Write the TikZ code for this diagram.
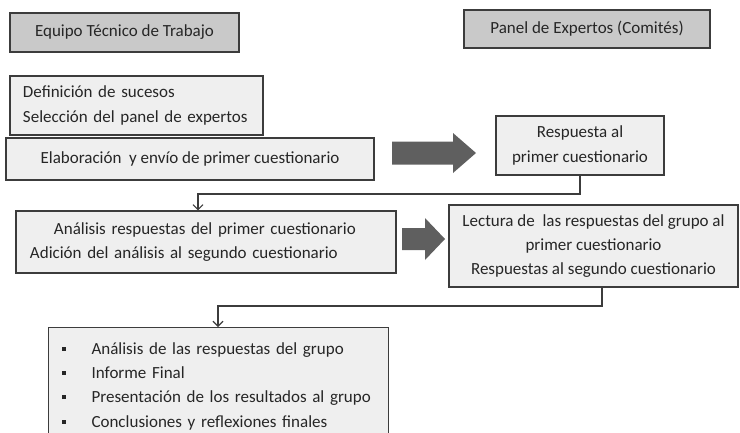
\documentclass[tikz,border=0pt]{standalone}
\usepackage{fontspec}
\setmainfont{Carlito}
\usetikzlibrary{arrows.meta}
\definecolor{boxgray}{HTML}{EFEFEF}
\definecolor{headgray}{HTML}{C9C9C9}
\definecolor{linegray}{HTML}{3C3C3C}
\definecolor{arrowgray}{HTML}{5F5F5F}
\tikzset{
  box/.style={draw=linegray, line width=1.1pt, fill=boxgray, text=black!85,
    font=\fontsize{17}{24.3}\selectfont, inner sep=0pt},
  headbox/.style={box, fill=headgray},
  conn/.style={draw=linegray, line width=1.1pt,
    -{Straight Barb[length=5pt,width=10pt,line width=1.1pt]}},
  bigarrow/.style={fill=arrowgray, draw=none}
}
\newcommand{\bul}{\rule[3.5pt]{4pt}{4pt}\hspace{26pt}}
\begin{document}
\begin{tikzpicture}[x=1pt,y=-1pt]
  \def\Ya{141.5};
  \def\Yb{164.5};
  \def\Yc{228};
  \def\Yd{250};
  \useasboundingbox (0,0) rectangle (740,432);

	% headers
	\node[headbox, minimum width=229pt, minimum height=39pt] (equipo) at (124.5,32.5) {Equipo Técnico de Trabajo};
	\node[headbox, minimum width=246pt, minimum height=38pt] (panel) at (587,29) {Panel de Expertos (Comités)};

	% boxes
	\node[box, text width=227pt, inner xsep=13pt, minimum height=59pt, align=left] (def) at (136.5,105.5)
	  {Definición de sucesos\\Selección del panel de expertos};
	\node[box, minimum width=368pt, minimum height=42pt] (elab) at (190,159) {Elaboración \ y envío de primer cuestionario};
	\node[box, minimum width=168pt, minimum height=59pt, align=center] (resp) at (580,145.5)
	  {Respuesta al\\primer cuestionario};
	\node[box, text width=352pt, inner xsep=14pt, minimum height=62pt, align=left] (anal) at (206,242)
	  {\hspace*{24pt}Análisis respuestas del primer cuestionario\\Adición del análisis al segundo cuestionario};
	\node[box, minimum width=289pt, minimum height=82pt, align=center] (lect) at (593.5,246)
	  {Lectura de \ las respuestas del grupo al\\primer cuestionario\\Respuestas al segundo cuestionario};
	\node[box, anchor=north west, text width=314pt, inner xsep=13pt, minimum height=117pt, align=left] (fin) at (48,327)
	  {\bul Análisis de las respuestas del grupo\\\bul Informe Final\\\bul Presentación de los resultados al grupo\\\bul Conclusiones y reflexiones finales};

	% arrows
	\fill[bigarrow] (392,\Ya) -- (453,\Ya) -- (453,133) -- (476,153) -- (453,173) -- (453,\Yb) -- (392,\Yb) -- cycle;
	\fill[bigarrow] (402,\Yc) -- (425,\Yc) -- (425,218) -- (445,239) -- (425,260) -- (425,\Yd) -- (402,\Yd) -- cycle;

	% connectors
	\coordinate (k1) at (198,194);
	\coordinate (k2) at (218,306);
	\draw[conn] (resp.south) |- (k1) -- (k1 |- anal.north);
	\draw[conn] ([xshift=8.5pt]lect.south) |- (k2) -- (k2 |- fin.north);

\end{tikzpicture}
\end{document}
